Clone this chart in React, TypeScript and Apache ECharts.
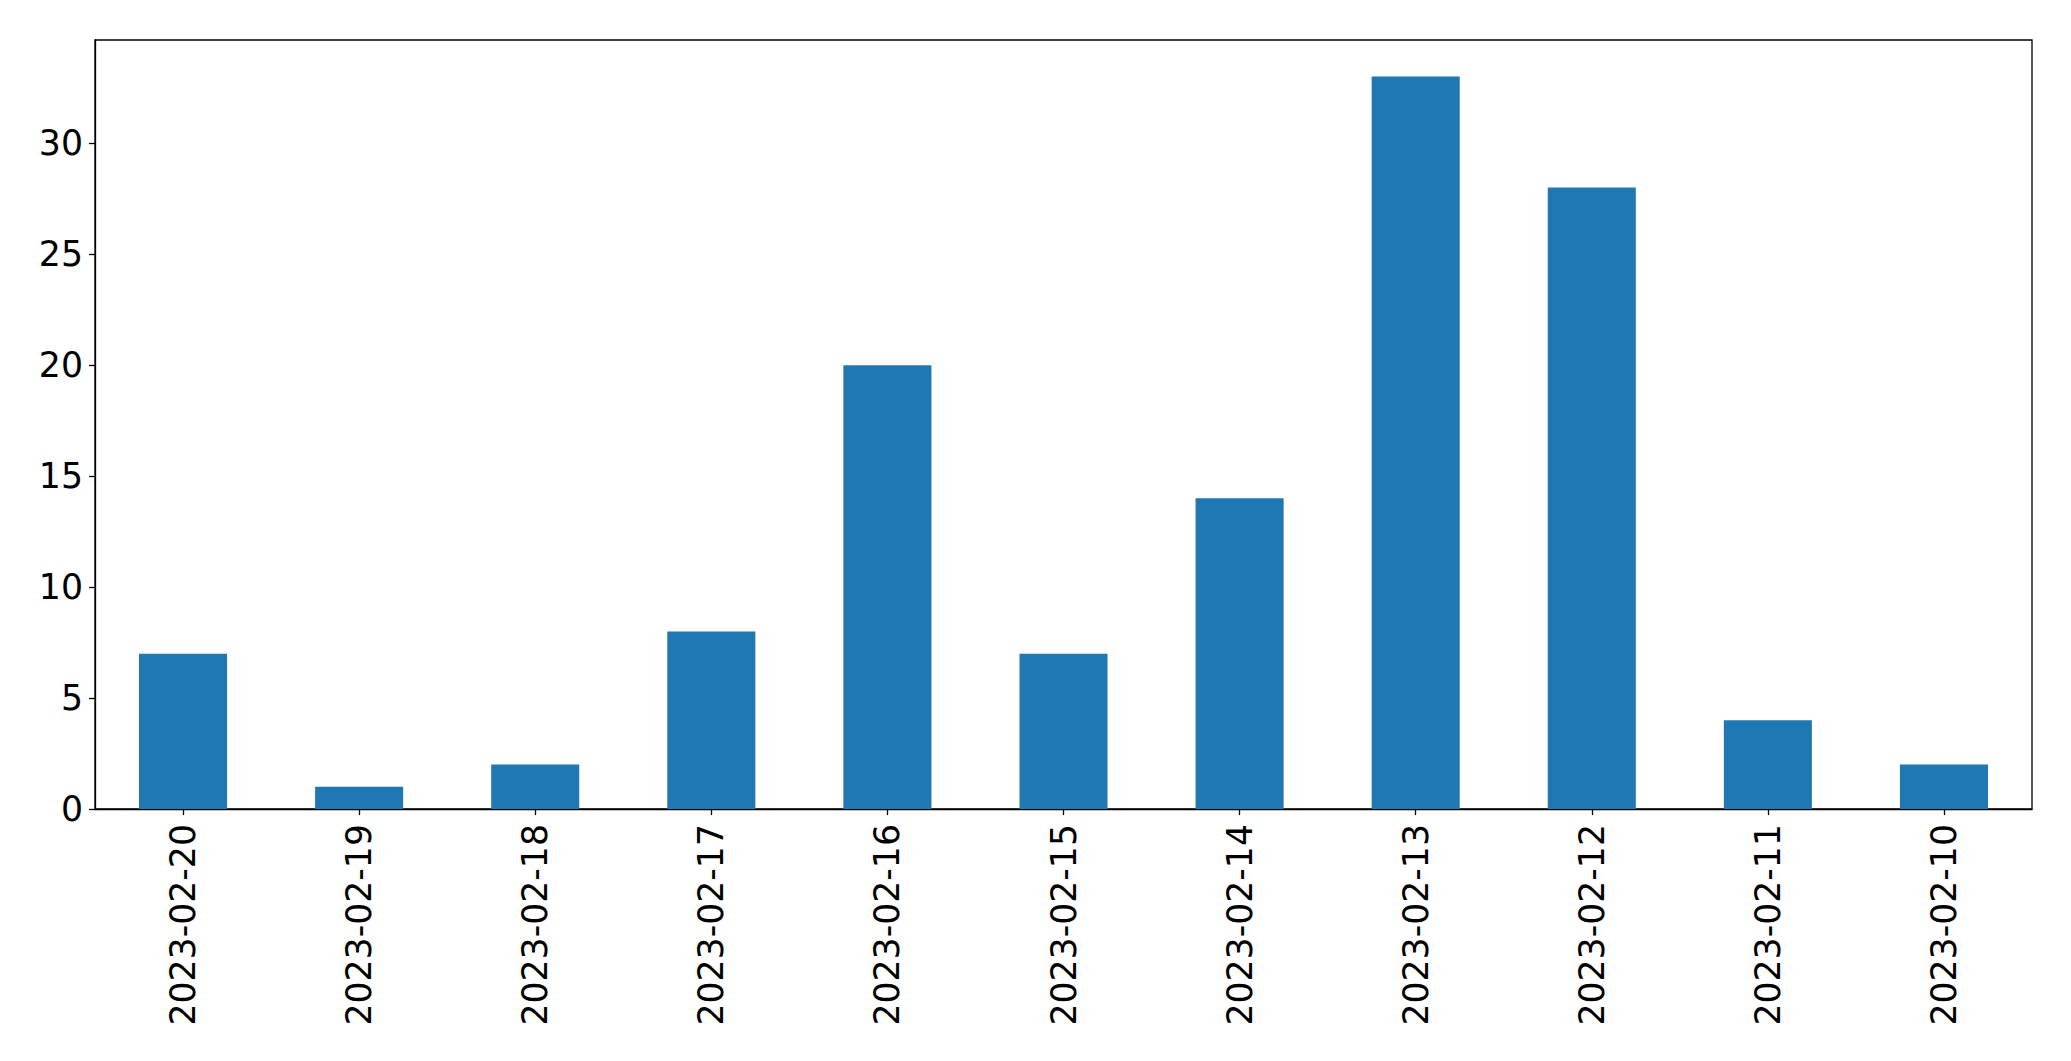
import React, { useEffect, useRef } from "react";
import * as echarts from "echarts";

const categories = [
  "2023-02-20",
  "2023-02-19",
  "2023-02-18",
  "2023-02-17",
  "2023-02-16",
  "2023-02-15",
  "2023-02-14",
  "2023-02-13",
  "2023-02-12",
  "2023-02-11",
  "2023-02-10",
];
const counts = [7, 1, 2, 8, 20, 7, 14, 33, 28, 4, 2];
const yTicks = [0, 5, 10, 15, 20, 25, 30];
const yMax = 34.65;

export default function App() {
  const ref = useRef<HTMLDivElement>(null);
  useEffect(() => {
    if (!ref.current) return;
    const chart = echarts.init(ref.current, null, { renderer: "svg" });
    const font = "DejaVu Sans";
    chart.setOption({
      animation: false,
      backgroundColor: "#ffffff",
      grid: {
        left: 95,
        right: 39,
        top: 40,
        bottom: 252,
        show: true,
        borderColor: "#000000",
        borderWidth: 1.3,
        backgroundColor: "transparent",
      },
      xAxis: {
        type: "category",
        data: categories,
        axisLine: { show: true, lineStyle: { color: "#000000", width: 1.3 } },
        axisTick: {
          show: true,
          alignWithLabel: true,
          length: 6,
          lineStyle: { color: "#000000", width: 1.3 },
        },
        axisLabel: {
          rotate: 90,
          interval: 0,
          margin: 15,
          color: "#000000",
          fontFamily: font,
          fontSize: 34.7,
        },
        splitLine: { show: false },
      },
      yAxis: {
        type: "value",
        min: 0,
        max: yMax,
        interval: 5,
        axisLine: { show: true, lineStyle: { color: "#000000", width: 1.3 } },
        axisTick: {
          show: true,
          length: 6,
          lineStyle: { color: "#000000", width: 1.3 },
          customValues: yTicks,
        },
        axisLabel: {
          margin: 12,
          color: "#000000",
          fontFamily: font,
          fontSize: 34.7,
          customValues: yTicks,
        },
        splitLine: { show: false },
      },
      series: [
        {
          type: "bar",
          data: counts,
          barWidth: "50%",
          itemStyle: { color: "#1f77b4" },
        },
      ],
    });
    return () => chart.dispose();
  }, []);
  return (
    <div
      ref={ref}
      style={{ position: "fixed", left: 0, top: 0, width: 2071, height: 1061, background: "#fff" }}
    />
  );
}
